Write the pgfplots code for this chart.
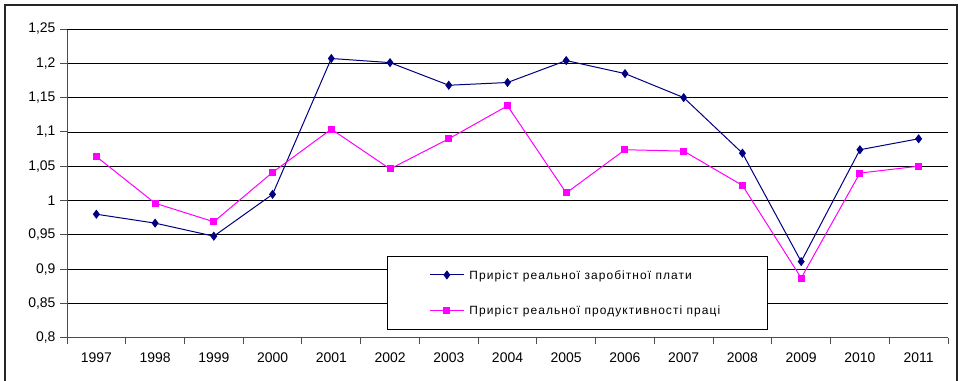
\documentclass[border=0pt]{standalone}
\usepackage{fontspec}
\setmainfont{Liberation Sans}
\newfontfamily\legendfont[LetterSpace=9]{Liberation Sans}
\usepackage{pgfplots}
\pgfplotsset{compat=1.18}

\definecolor{wageblue}{RGB}{0,0,128}
\definecolor{prodpink}{RGB}{255,0,255}

\begin{document}
\begin{tikzpicture}[x=1bp,y=1bp]
\useasboundingbox (0,0) rectangle (960,380);
% outer chart frame
\draw[line width=2bp, black!85] (5,-5) rectangle (957,375);
\begin{axis}[
  at={(67bp,42.3bp)}, anchor=south west,
  scale only axis, width=881bp, height=308.7bp,
  xmin=-0.5, xmax=14.5, ymin=0.8, ymax=1.25,
  axis x line*=bottom, axis y line*=left,
  axis line style={black!70, line width=0.9bp},
  xtick={0,...,14},
  xticklabels={1997,1998,1999,2000,2001,2002,2003,2004,2005,2006,2007,2008,2009,2010,2011},
  major x tick style={draw=none},
  minor xtick={-0.5,0.5,...,14.5},
  minor tick length=6bp,
  minor x tick style={black!70, line width=0.9bp},
  xtick pos=bottom, ytick pos=left,
  tick align=outside,
  ytick={0.8,0.85,0.9,0.95,1,1.05,1.1,1.15,1.2},
  extra y ticks={1.25},
  extra y tick style={grid style={black!22, line width=0.9bp}},
  major tick length=7bp,
  major y tick style={black!70, line width=0.9bp},
  ymajorgrids,
  major grid style={black, line width=0.7bp},
  /pgf/number format/assume math mode=true,
  /pgf/number format/use comma,
  /pgf/number format/fixed,
  /pgf/number format/precision=2,
  tick label style={font=\fontsize{14}{16}\selectfont, text=black},
  xticklabel style={yshift=-5bp},
  yticklabel style={xshift=-1bp},
  legend style={
    at={(0.3632,0.027)}, anchor=south west,
    draw=black, line width=0.8bp, fill=white,
    inner xsep=42bp, inner ysep=12bp,
    row sep=23bp,
    font=\legendfont\fontsize{12}{13}\selectfont,
    nodes={text depth=0pt, inner xsep=5bp},
  },
  legend cell align=left,
  legend image code/.code={
    \draw[mark repeat=2,mark phase=2,#1]
      plot coordinates {(0bp,0bp) (17bp,0bp) (34bp,0bp)};},
]
\addplot[wageblue, line width=1bp, mark=diamond*, mark size=3.8bp,
  mark options={fill=wageblue, draw=wageblue}] coordinates {
  (0,0.980) (1,0.967) (2,0.948) (3,1.009) (4,1.207) (5,1.201) (6,1.168)
  (7,1.172) (8,1.204) (9,1.185) (10,1.150) (11,1.069) (12,0.911)
  (13,1.074) (14,1.090)};
\addlegendentry{Приріст реальної заробітної плати}

\addplot[prodpink, line width=1bp, mark=square*, mark size=3bp,
  mark options={fill=prodpink, draw=prodpink}] coordinates {
  (0,1.064) (1,0.996) (2,0.969) (3,1.041) (4,1.104) (5,1.046) (6,1.090)
  (7,1.138) (8,1.011) (9,1.074) (10,1.072) (11,1.022) (12,0.887)
  (13,1.040) (14,1.050)};
\addlegendentry{Приріст реальної продуктивності праці}
\end{axis}
\end{tikzpicture}
\end{document}
